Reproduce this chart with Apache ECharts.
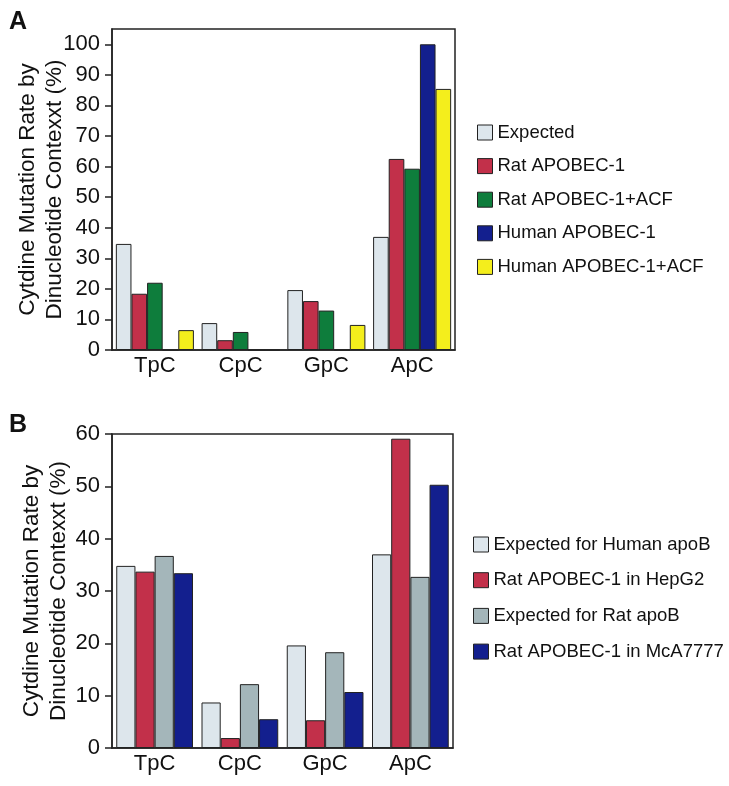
<!DOCTYPE html>
<html><head><meta charset="utf-8">
<script src="https://cdn.jsdelivr.net/npm/echarts@6/dist/echarts.min.js"></script>
<style>html,body{margin:0;padding:0;background:#fff}#c{width:729px;height:786px}</style>
</head><body><div id="c"></div>
<script>
const categories = ['TpC', 'CpC', 'GpC', 'ApC'];

const seriesNamesA = ['Expected', 'Rat APOBEC-1', 'Rat APOBEC-1+ACF', 'Human APOBEC-1', 'Human APOBEC-1+ACF'];
const expectedA = [34.7, 8.8, 19.6, 37.0];
const ratA = [18.4, 3.2, 16.0, 62.5];
const ratAcfA = [22.0, 5.9, 12.9, 59.3];
const humanA = [0, 0, 0, 100];
const humanAcfA = [6.5, 0, 8.2, 85.4];
const ticksA = [0, 10, 20, 30, 40, 50, 60, 70, 80, 90, 100];

const seriesNamesB = ['Expected for Human apoB', 'Rat APOBEC-1 in HepG2', 'Expected for Rat apoB', 'Rat APOBEC-1 in McA7777'];
const expHumanB = [34.8, 8.7, 19.6, 37.0];
const ratHepG2B = [33.7, 1.9, 5.3, 59.1];
const expRatB = [36.7, 12.2, 18.3, 32.7];
const ratMcaB = [33.4, 5.5, 10.7, 50.3];
const ticksB = [0, 10, 20, 30, 40, 50, 60];

const colorsA = ['#dde6ec', '#c2304a', '#0e7d3c', '#131f8e', '#f4ee1c'];
const colorsB = ['#dde6ec', '#c2304a', '#a4b6ba', '#131f8e'];

const FONT = 'Liberation Sans, Arial, Helvetica, sans-serif';
const AXC = '#222';
const yName = 'Cytdine Mutation Rate by\nDinucleotide Contexxt (%)';

function mkBars(names, datas, colors, gi, gap) {
  return names.map((n, i) => ({
    name: n, type: 'bar', xAxisIndex: gi, yAxisIndex: gi,
    data: datas[i], barGap: '0%', barCategoryGap: gap,
    itemStyle: { color: colors[i], borderColor: '#222', borderWidth: 1 },
    emphasis: { disabled: true }, animation: false
  }));
}

function xAx(gi) {
  return {
    type: 'category', gridIndex: gi, data: categories,
    axisLine: { lineStyle: { color: AXC, width: 1.5 } },
    axisTick: { show: false },
    axisLabel: { color: '#111', fontSize: 22, fontFamily: FONT, margin: 5 }
  };
}
function yAx(gi, max, ticks, gap) {
  return {
    type: 'value', gridIndex: gi, min: 0, max: max, interval: 10,
    name: yName, nameLocation: 'middle', nameGap: gap, nameRotate: 90, nameMoveOverlap: false,
    nameTextStyle: { color: '#111', fontSize: 22.5, fontFamily: FONT, lineHeight: 27 },
    axisLine: { show: true, lineStyle: { color: AXC, width: 1.5 } },
    axisTick: { show: true, length: 7, customValues: ticks, lineStyle: { color: AXC, width: 1.5 } },
    axisLabel: { color: '#111', fontSize: 22, fontFamily: FONT, margin: 12, customValues: ticks },
    splitLine: { show: false }
  };
}

const chart = echarts.init(document.getElementById('c'), null, { renderer: 'canvas' });
chart.setOption({
  animation: false,
  backgroundColor: '#fff',
  grid: [
    { left: 112, top: 29, width: 343, height: 321, show: true, borderColor: AXC, borderWidth: 1.5 },
    { left: 112, top: 434, width: 341, height: 314, show: true, borderColor: AXC, borderWidth: 1.5 }
  ],
  xAxis: [xAx(0), xAx(1)],
  yAxis: [yAx(0, 105, ticksA, 44), yAx(1, 60, ticksB, 39.5)],
  legend: [
    { data: seriesNamesA, orient: 'vertical', left: 472, top: 118, itemWidth: 15, itemHeight: 15, itemGap: 14.6,
      icon: 'rect', selectedMode: false,
      itemStyle: { borderColor: '#222', borderWidth: 1 },
      textStyle: { color: '#111', fontSize: 18.5, fontFamily: FONT } },
    { data: seriesNamesB, orient: 'vertical', left: 468, top: 530, itemWidth: 15, itemHeight: 15, itemGap: 16.7,
      icon: 'rect', selectedMode: false,
      itemStyle: { borderColor: '#222', borderWidth: 1 },
      textStyle: { color: '#111', fontSize: 18.5, fontFamily: FONT } }
  ],
  graphic: [
    { type: 'text', left: 9, top: 10, style: { text: 'A', fontSize: 25, fontWeight: 'bold', fontFamily: FONT, fill: '#111' } },
    { type: 'text', left: 9, top: 413, style: { text: 'B', fontSize: 25, fontWeight: 'bold', fontFamily: FONT, fill: '#111' } }
  ],
  series: [].concat(
    mkBars(seriesNamesA, [expectedA, ratA, ratAcfA, humanA, humanAcfA], colorsA, 0, '9%'),
    mkBars(seriesNamesB, [expHumanB, ratHepG2B, expRatB, ratMcaB], colorsB, 1, '10%')
  )
});
</script></body></html>
